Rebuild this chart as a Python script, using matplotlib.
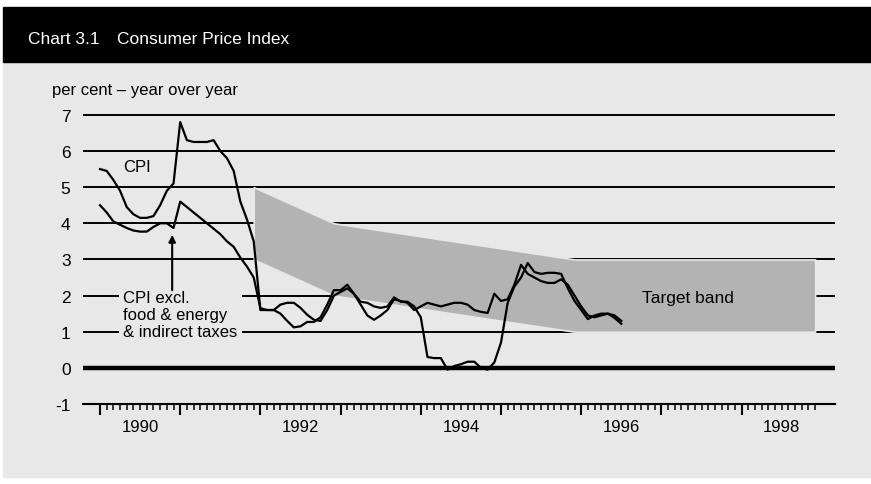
import numpy as np
import matplotlib
matplotlib.use("Agg")
import matplotlib.pyplot as plt
from matplotlib.patches import Rectangle
from matplotlib import font_manager as fm

# =============================================================================
# Data (monthly, year-over-year %, starting Jan 1990)
# =============================================================================

START_YEAR = 1990

CPI = [
    5.5, 5.45, 5.2, 4.9, 4.45, 4.25, 4.15, 4.15, 4.2, 4.5, 4.9, 5.1,       # 1990
    6.8, 6.3, 6.25, 6.25, 6.25, 6.3, 6.0, 5.8, 5.45, 4.6, 4.1, 3.5,        # 1991
    1.6, 1.6, 1.6, 1.5, 1.3, 1.12, 1.15, 1.27, 1.27, 1.4, 1.75, 2.15,      # 1992
    2.15, 2.3, 2.05, 1.83, 1.8, 1.7, 1.66, 1.7, 1.95, 1.83, 1.83, 1.7,     # 1993
    1.4, 0.3, 0.27, 0.27, -0.05, 0.05, 0.1, 0.17, 0.17, 0.0, -0.05, 0.15,  # 1994
    0.7, 1.8, 2.25, 2.5, 2.9, 2.65, 2.6, 2.63, 2.63, 2.6, 2.2, 1.85,       # 1995
    1.6, 1.35, 1.45, 1.5, 1.5, 1.38, 1.22,                                 # 1996
]

CORE = [
    4.5, 4.3, 4.05, 3.96, 3.87, 3.8, 3.77, 3.77, 3.9, 4.0, 4.0, 3.87,      # 1990
    4.6, 4.45, 4.3, 4.15, 4.0, 3.85, 3.7, 3.5, 3.35, 3.05, 2.8, 2.5,       # 1991
    1.65, 1.6, 1.6, 1.75, 1.8, 1.8, 1.66, 1.47, 1.33, 1.3, 1.6, 2.0,       # 1992
    2.1, 2.2, 2.05, 1.75, 1.45, 1.33, 1.45, 1.6, 1.9, 1.85, 1.8, 1.6,      # 1993
    1.7, 1.8, 1.75, 1.7, 1.75, 1.8, 1.8, 1.75, 1.6, 1.55, 1.52, 2.05,      # 1994
    1.85, 1.9, 2.3, 2.85, 2.6, 2.5, 2.4, 2.35, 2.35, 2.45, 2.3, 2.0,       # 1995
    1.7, 1.45, 1.4, 1.45, 1.5, 1.45, 1.3,                                  # 1996
]

# target band: date (year, month), mid-point, half width
BAND_DATES = [(1991, 12), (1992, 12), (1994, 6), (1995, 12), (1998, 12)]
BAND_MID = [4.0, 3.0, 2.5, 2.0, 2.0]
BAND_HALF = 1.0

YEAR_LABELS = ["1990", "1992", "1994", "1996", "1998"]
Y_TICKS = [-1, 0, 1, 2, 3, 4, 5, 6, 7]

# =============================================================================
# Style
# =============================================================================

BG = "#e8e8e8"
BAND = "#b3b3b3"


def pick_font(names, default="DejaVu Sans"):
    for name in names:
        try:
            fm.findfont(fm.FontProperties(family=name), fallback_to_default=False)
            return name
        except ValueError:
            pass
    return default


BODY_FONT = pick_font(["Liberation Sans", "Arial"])
TITLE_FONT = pick_font(["Liberation Sans Narrow", "Liberation Sans"])
TITLE_SIZE = 13.5 if TITLE_FONT == "Liberation Sans Narrow" else 12.5

plt.rcParams["font.family"] = [BODY_FONT, "DejaVu Sans"]
plt.rcParams["axes.unicode_minus"] = False

W, H = 871, 485


def fx(px):
    return px / W


def fy(py):
    return (H - py) / H


# =============================================================================
# Figure
# =============================================================================

fig = plt.figure(figsize=(W / 100, H / 100), dpi=100)
fig.patch.set_facecolor("white")

# panel + title bar
fig.add_artist(Rectangle((fx(3), fy(478)), fx(868), (478 - 63) / H,
                         transform=fig.transFigure, color=BG, zorder=-10))
fig.add_artist(Rectangle((fx(3), fy(63)), fx(868), 55 / H,
                         transform=fig.transFigure, color="black", zorder=-9))
fig.text(fx(28), fy(40), "Chart 3.1", color="white", va="center",
         family=TITLE_FONT, fontsize=TITLE_SIZE)
fig.text(fx(117), fy(40), "Consumer Price Index", color="white", va="center",
         family=TITLE_FONT, fontsize=TITLE_SIZE)

ax = fig.add_axes([fx(83), fy(405), fx(835 - 83), (405 - 109) / H])
ax.patch.set_visible(False)

year_px = 80.2
ax.set_xlim(START_YEAR + (83 - 100) / year_px, START_YEAR + (835 - 100) / year_px)
ax.set_ylim(-1, 7.19)

t_cpi = START_YEAR + np.arange(len(CPI)) / 12
t_core = START_YEAR + np.arange(len(CORE)) / 12

# target band
band_t = [y + (m - 1) / 12 for y, m in BAND_DATES]
band_mid = np.array(BAND_MID)
ax.fill_between(band_t, band_mid - BAND_HALF, band_mid + BAND_HALF,
                facecolor=BAND, edgecolor=BG, lw=1.2, zorder=1)

# grid / zero line
ax.set_yticks(Y_TICKS)
ax.yaxis.grid(True, color="black", lw=1.4)
ax.set_axisbelow(True)
ax.axhline(0, color="black", lw=3.2, zorder=2)

ax.plot(t_core, CORE, color="black", lw=1.6, zorder=3)
ax.plot(t_cpi, CPI, color="black", lw=1.6, zorder=3)

for s in ["top", "left", "right"]:
    ax.spines[s].set_visible(False)
ax.spines["bottom"].set_linewidth(1.5)

ax.tick_params(axis="y", length=0, labelsize=12.5, pad=9)

ax.set_xticks(np.arange(1990, 1999), labels=[""] * 9)
ax.set_xticks(START_YEAR + np.arange(0, 108) / 12, minor=True)
ax.tick_params(axis="x", which="major", length=8, width=1.5, direction="out")
ax.tick_params(axis="x", which="minor", length=4, width=1.1, direction="out")

sec = ax.secondary_xaxis("bottom")
sec.set_xticks([int(y) + 0.5 for y in YEAR_LABELS], labels=YEAR_LABELS)
sec.tick_params(length=0, pad=11, labelsize=12)
sec.spines["bottom"].set_visible(False)

# annotations
ax.text(-0.041, 1.064, "per cent \u2013 year over year", transform=ax.transAxes,
        fontsize=12, va="center", ha="left")
ax.text(1990.29, 5.57, "CPI", fontsize=12, va="center", ha="left", zorder=4)
ax.text(1990.29, 1.47, "CPI excl.\nfood & energy\n& indirect taxes",
        fontsize=12, va="center", ha="left", linespacing=1.15, zorder=2.5,
        bbox=dict(boxstyle="square,pad=0.25", facecolor=BG, edgecolor="none"))
ax.annotate("", xy=(1990.9, 3.68), xytext=(1990.9, 2.15),
            arrowprops=dict(arrowstyle="-|>", lw=1.5, color="black",
                            mutation_scale=10, shrinkA=0, shrinkB=0),
            zorder=4)
ax.text(1996.76, 1.94, "Target band", fontsize=12.5, va="center", ha="left",
        zorder=4)

fig.savefig("out.png", dpi=100, facecolor=fig.get_facecolor())
